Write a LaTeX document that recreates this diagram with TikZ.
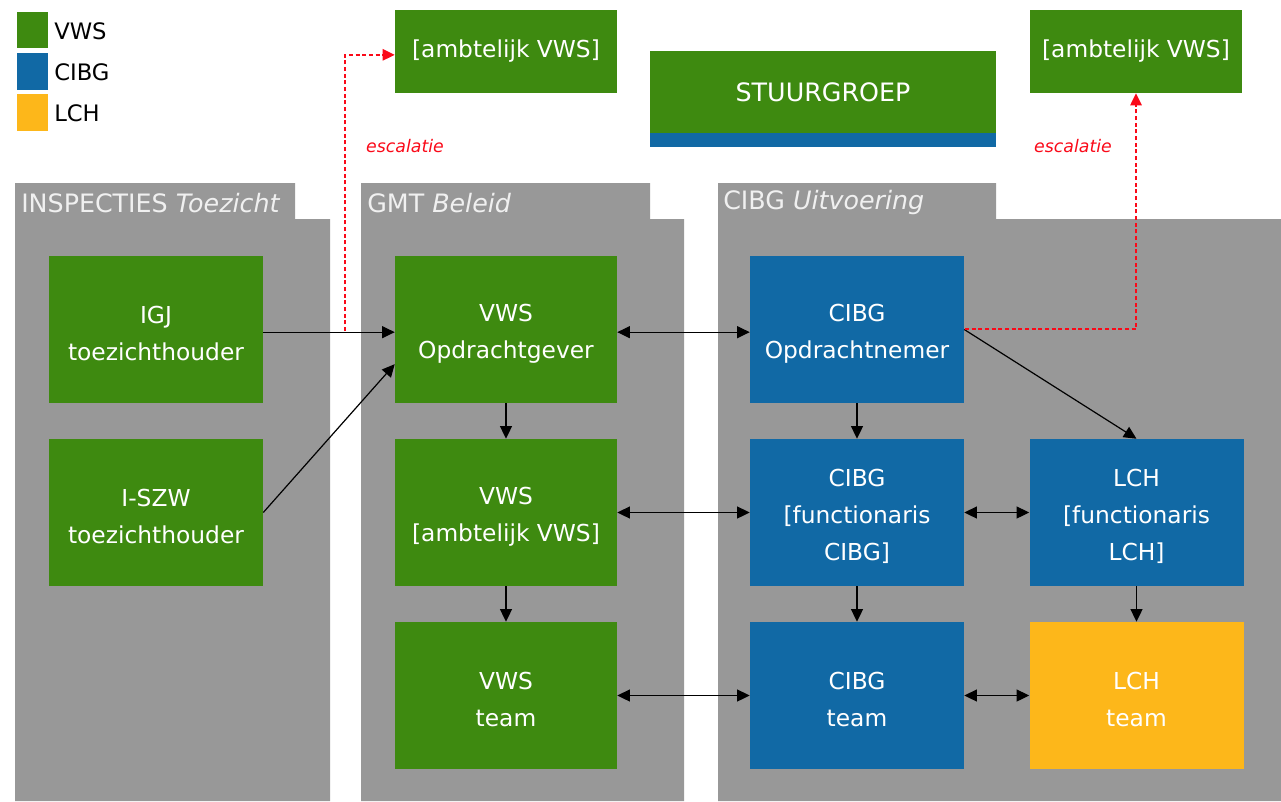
\documentclass[tikz,border=0pt]{standalone}
\usepackage{fontspec}
\setmainfont{DejaVu Sans}
\usetikzlibrary{arrows.meta}
\definecolor{vwsgreen}{RGB}{62,138,16}
\definecolor{cibgblue}{RGB}{17,105,165}
\definecolor{lchorange}{RGB}{253,183,26}
\definecolor{panelgray}{RGB}{152,152,152}
\definecolor{escred}{RGB}{250,10,25}
\newcommand{\boxstrut}{\rule{0pt}{19pt}}

\begin{document}
\begin{tikzpicture}[x=0.75pt,y=0.75pt,yscale=-1,xscale=1,
  box/.style={draw=none,inner sep=0pt,text=white,align=center,minimum width=160.5pt,minimum height=110.25pt,font=\fontsize{17.5}{27.5}\selectfont},
  vwsbox/.style={box,fill=vwsgreen,minimum width=166.5pt},
  cibgbox/.style={box,fill=cibgblue},
  lchbox/.style={box,fill=lchorange},
  panel/.style={fill=panelgray,draw=none},
  paneltitle/.style={anchor=west,inner sep=0pt,text=white!94!black,font=\fontsize{19}{22}\selectfont},
  legendtext/.style={anchor=west,inner sep=0pt,font=\fontsize{17}{19}\selectfont},
  arr/.style={-{Triangle[length=9.5pt,width=9pt]},line width=0.9pt},
  biarr/.style={{Triangle[length=9.5pt,width=9pt]}-{Triangle[length=9.5pt,width=9pt]},line width=0.9pt},
  escarr/.style={-{Triangle[length=9pt,width=8.5pt]},escred,dash pattern=on 3pt off 2pt,line width=1.2pt},
  esctext/.style={text=escred,font=\fontsize{13}{15}\selectfont\itshape}]
\useasboundingbox (0,0) rectangle (1281,801);

%Legend
\fill[vwsgreen] (17,12) rectangle (48,48);
\fill[cibgblue] (17,53) rectangle (48,90);
\fill[lchorange] (17,94) rectangle (48,131);
\node[legendtext] (lgvws) at (54,31) {VWS};
\node[legendtext] (lgcibg) at (54,72) {CIBG};
\node[legendtext] (lglch) at (54,113) {LCH};

%Panels
\path[panel] (15,183) -- (295,183) -- (295,219) -- (330,219) -- (330,801) -- (15,801) -- cycle;
\path[panel] (361,183) -- (650,183) -- (650,219) -- (684,219) -- (684,801) -- (361,801) -- cycle;
\path[panel] (718,183) -- (996,183) -- (996,219) -- (1281,219) -- (1281,801) -- (718,801) -- cycle;
\node[paneltitle] (ttlinsp) at (21,203) {INSPECTIES \textit{Toezicht}};
\node[paneltitle] (ttlgmt) at (367,203) {GMT \textit{Beleid}};
\node[paneltitle] (ttlcibg) at (723,203) {CIBG \textit{Uitvoering}};

%Top boxes
\node[vwsbox,minimum width=166.5pt,minimum height=62.25pt] (ambL) at (506,51.5) {[ambtelijk VWS]};
\node[vwsbox,minimum width=159pt,minimum height=62.25pt] (ambR) at (1136,51.5) {[ambtelijk VWS]};
\node[vwsbox,minimum width=259.5pt,minimum height=61.5pt,font=\fontsize{19}{22}\selectfont] (stuur) at (823,92) {STUURGROEP};
\fill[cibgblue] (stuur.south west) rectangle ++(346,14);

%Boxes
\node[box,fill=vwsgreen] (igj) at (156,329.5) {\boxstrut IGJ\\toezichthouder};
\node[box,fill=vwsgreen] (iszw) at (156,512.5) {\boxstrut I-SZW\\toezichthouder};
\node[vwsbox] (opd) at (506,329.5) {\boxstrut VWS\\Opdrachtgever};
\node[vwsbox] (amb) at (506,512.5) {\boxstrut VWS\\{}[ambtelijk VWS]};
\node[vwsbox] (vteam) at (506,695.5) {\boxstrut VWS\\team};
\node[cibgbox] (copd) at (857,329.5) {\boxstrut CIBG\\Opdrachtnemer};
\node[cibgbox] (cfunc) at (857,512.5) {\boxstrut CIBG\\{}[functionaris\\CIBG]};
\node[cibgbox] (cteam) at (857,695.5) {\boxstrut CIBG\\team};
\node[cibgbox] (lfunc) at (1136.5,512.5) {\boxstrut LCH\\{}[functionaris\\LCH]};
\node[lchbox] (lteam) at (1136.5,695.5) {\boxstrut LCH\\team};

%Connectors
\draw[arr] ([yshift=2pt]igj.east) -- ([yshift=2pt]opd.west);
\draw[arr] (iszw.east) -- ([yshift=26pt]opd.west);
\draw[arr] (opd) -- (amb);
\draw[arr] (amb) -- (vteam);
\draw[arr] (copd) -- (cfunc);
\draw[arr] (cfunc) -- (cteam);
\draw[arr] (lfunc) -- (lteam);
\draw[arr] (copd.east) -- (lfunc.north);
\draw[biarr] ([yshift=2pt]opd.east) -- ([yshift=2pt]copd.west);
\draw[biarr] (amb) -- (cfunc);
\draw[biarr] (vteam) -- (cteam);
\draw[biarr] (cfunc) -- (lfunc);
\draw[biarr] (cteam) -- (lteam);

%Escalation
\coordinate (escL) at (345,331);
\coordinate (escR) at (965,329);
\draw[escarr] (escL) |- ([yshift=2.5pt]ambL.west);
\draw[escarr] (escR) -| (ambR.south);
\node[esctext] (escLtxt) at (405,146) {escalatie};
\node[esctext] (escRtxt) at (1073,146) {escalatie};
\end{tikzpicture}
\end{document}
